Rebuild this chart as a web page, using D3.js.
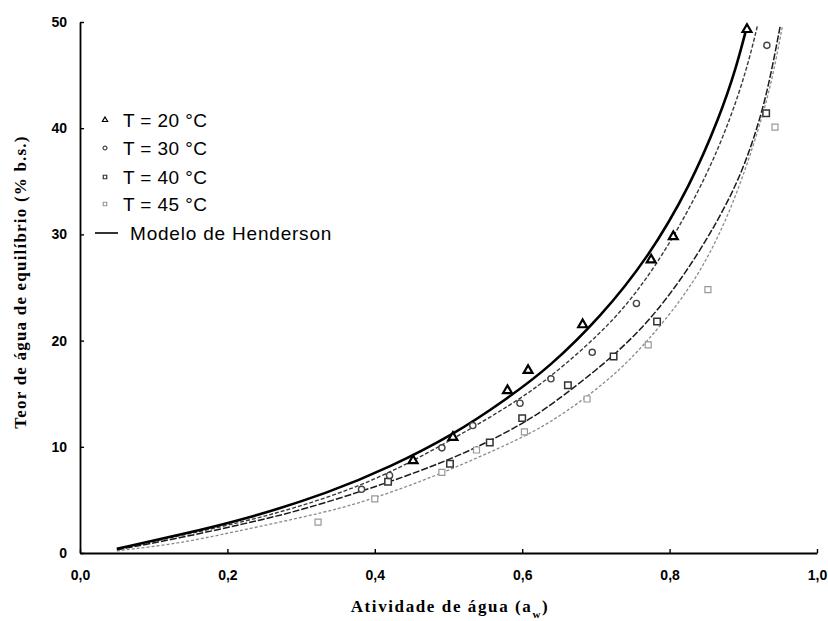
<!DOCTYPE html>
<html>
<head>
<meta charset="utf-8">
<script src="https://cdn.jsdelivr.net/npm/d3@7"></script>
<style>
  html, body { margin: 0; padding: 0; background: #fff; }
  svg { display: block; }
</style>
</head>
<body>
<svg id="chart" width="828" height="621"></svg>
<script>
// ---------- data ----------
const xTicks = [0, 0.2, 0.4, 0.6, 0.8, 1.0];
const yTicks = [0, 10, 20, 30, 40, 50];
const seriesNames = ["T = 20 °C", "T = 30 °C", "T = 40 °C", "T = 45 °C"];
const modelName = "Modelo de Henderson";

// experimental points [aw, X]
const pts20 = [[0.452,8.7],[0.506,10.9],[0.580,15.3],[0.608,17.2],[0.682,21.5],[0.775,27.6],[0.805,29.8],[0.905,49.3]];
const pts30 = [[0.382,6.0],[0.420,7.3],[0.491,9.9],[0.533,12.0],[0.597,14.1],[0.639,16.4],[0.695,18.9],[0.755,23.5],[0.932,47.8]];
const pts40 = [[0.418,6.7],[0.502,8.4],[0.556,10.4],[0.600,12.7],[0.662,15.8],[0.724,18.5],[0.783,21.8],[0.931,41.4]];
const pts45 = [[0.323,2.9],[0.400,5.1],[0.491,7.6],[0.538,9.7],[0.603,11.4],[0.688,14.5],[0.771,19.6],[0.852,24.8],[0.943,40.1]];

// model curves [aw, X]
const fit20 = [[0.05,0.4],[0.135,1.7],[0.226,3.2],[0.339,5.7],[0.421,8.1],[0.506,11.1],[0.579,14.5],[0.637,17.5],[0.706,22.2],[0.771,27.8],[0.828,34.6],[0.868,41.1],[0.890,45.6],[0.905,49.6]];
const fit30 = [[0.05,0.4],[0.135,1.6],[0.226,3.0],[0.300,4.4],[0.380,6.3],[0.451,8.6],[0.533,11.8],[0.597,14.5],[0.637,16.5],[0.706,20.6],[0.756,24.5],[0.803,29.4],[0.851,35.6],[0.882,40.8],[0.905,45.6],[0.919,49.6]];
const fit40 = [[0.05,0.3],[0.135,1.4],[0.226,2.8],[0.300,4.0],[0.418,6.6],[0.502,8.8],[0.552,10.4],[0.601,12.2],[0.637,13.8],[0.723,18.4],[0.783,22.6],[0.841,28.3],[0.886,33.9],[0.909,37.9],[0.927,41.9],[0.939,45.6],[0.950,49.6]];
const fit45 = [[0.05,0.2],[0.135,0.9],[0.203,1.9],[0.339,3.9],[0.402,5.2],[0.488,7.4],[0.570,9.9],[0.637,12.1],[0.719,16.3],[0.769,19.8],[0.837,25.6],[0.886,32.6],[0.923,40.3],[0.940,44.8],[0.953,49.6]];

// ---------- chart ----------
const svg = d3.select("#chart");
svg.append("rect").attr("width", 828).attr("height", 621).attr("fill", "#fff");

const x = d3.scaleLinear().domain([0, 1]).range([80, 817]);
const y = d3.scaleLinear().domain([0, 50]).range([553, 22]);

const styles = [
  { pts: pts20, fit: fit20, stroke: "#000", width: 2.6, dash: null, sym: d3.symbolTriangle, mstroke: "#000", mw: 2.2, size: 34 },
  { pts: pts30, fit: fit30, stroke: "#3a3a3a", width: 1.4, dash: "4,2", sym: d3.symbolCircle, mstroke: "#444", mw: 1.4, size: 30 },
  { pts: pts40, fit: fit40, stroke: "#1a1a1a", width: 1.5, dash: "7,2", sym: d3.symbolSquare, mstroke: "#333", mw: 1.5, size: 42 },
  { pts: pts45, fit: fit45, stroke: "#8a8a8a", width: 1.3, dash: "3,2", sym: d3.symbolSquare, mstroke: "#999", mw: 1.2, size: 36 }
];

const line = d3.line().x(d => x(d[0])).y(d => y(d[1])).curve(d3.curveBasis);

const plot = svg.append("g");
styles.slice().reverse().forEach(s => {
  plot.append("path")
    .datum(s.fit)
    .attr("d", line)
    .attr("fill", "none")
    .attr("stroke", s.stroke)
    .attr("stroke-width", s.width)
    .attr("stroke-dasharray", s.dash);
});

styles.slice().reverse().forEach(s => {
  plot.selectAll(null)
    .data(s.pts)
    .enter().append("path")
    .attr("transform", d => `translate(${x(d[0])},${y(d[1])})`)
    .attr("d", d3.symbol().type(s.sym).size(s.size))
    .attr("fill", "#fff")
    .attr("stroke", s.mstroke)
    .attr("stroke-width", s.mw);
});

// axes
const fmtX = d => d3.format(".1f")(d).replace(".", ",");
const xAxis = svg.append("g")
  .attr("transform", "translate(0,553)")
  .call(d3.axisBottom(x).tickValues(xTicks).tickFormat(fmtX).tickSize(-4).tickSizeOuter(0).tickPadding(17));
const yAxis = svg.append("g")
  .attr("transform", "translate(80,0)")
  .call(d3.axisLeft(y).tickValues(yTicks).tickFormat(d3.format("d")).tickSize(-4).tickSizeOuter(0).tickPadding(13));

[xAxis, yAxis].forEach(g => {
  g.select(".domain").attr("stroke", "#000").attr("stroke-width", 1.8);
  g.selectAll(".tick line").attr("stroke", "#000").attr("stroke-width", 1.4);
  g.selectAll(".tick text")
    .attr("fill", "#000")
    .style("font-family", "'Liberation Sans', Arial, sans-serif")
    .style("font-weight", "bold")
    .style("font-size", "14px");
});

// axis titles
const xt = svg.append("text")
  .attr("x", 450).attr("y", 612)
  .attr("text-anchor", "middle")
  .style("font-family", "'Liberation Serif', 'Times New Roman', serif")
  .style("font-weight", "bold")
  .style("font-size", "17px")
  .style("letter-spacing", "1.6px");
xt.append("tspan").text("Atividade de água (a");
xt.append("tspan").attr("baseline-shift", "sub").style("font-size", "11px").text("w");
xt.append("tspan").text(")");

svg.append("text")
  .attr("transform", "translate(26,282) rotate(-90)")
  .attr("text-anchor", "middle")
  .style("font-family", "'Liberation Serif', 'Times New Roman', serif")
  .style("font-weight", "bold")
  .style("font-size", "17px")
  .style("letter-spacing", "1.2px")
  .text("Teor de água de equilíbrio (% b.s.)");

// legend
const legY = [120, 148, 177, 204];
const leg = svg.append("g");
styles.forEach((s, i) => {
  leg.append("path")
    .attr("transform", `translate(105,${legY[i]})`)
    .attr("d", d3.symbol().type(s.sym).size(12))
    .attr("fill", "#fff")
    .attr("stroke", s.mstroke)
    .attr("stroke-width", 1.2);
  leg.append("text")
    .attr("x", 123).attr("y", legY[i]).attr("dy", "0.36em")
    .style("font-family", "'Liberation Sans', Arial, sans-serif")
    .style("font-size", "19px")
    .style("letter-spacing", "0.4px")
    .text(seriesNames[i]);
});
leg.append("line")
  .attr("x1", 95).attr("x2", 118).attr("y1", 233).attr("y2", 233)
  .attr("stroke", "#000").attr("stroke-width", 1.6);
leg.append("text")
  .attr("x", 130).attr("y", 233).attr("dy", "0.36em")
  .style("font-family", "'Liberation Sans', Arial, sans-serif")
  .style("font-size", "19px")
  .style("letter-spacing", "0.8px")
  .text(modelName);
</script>
</body>
</html>
